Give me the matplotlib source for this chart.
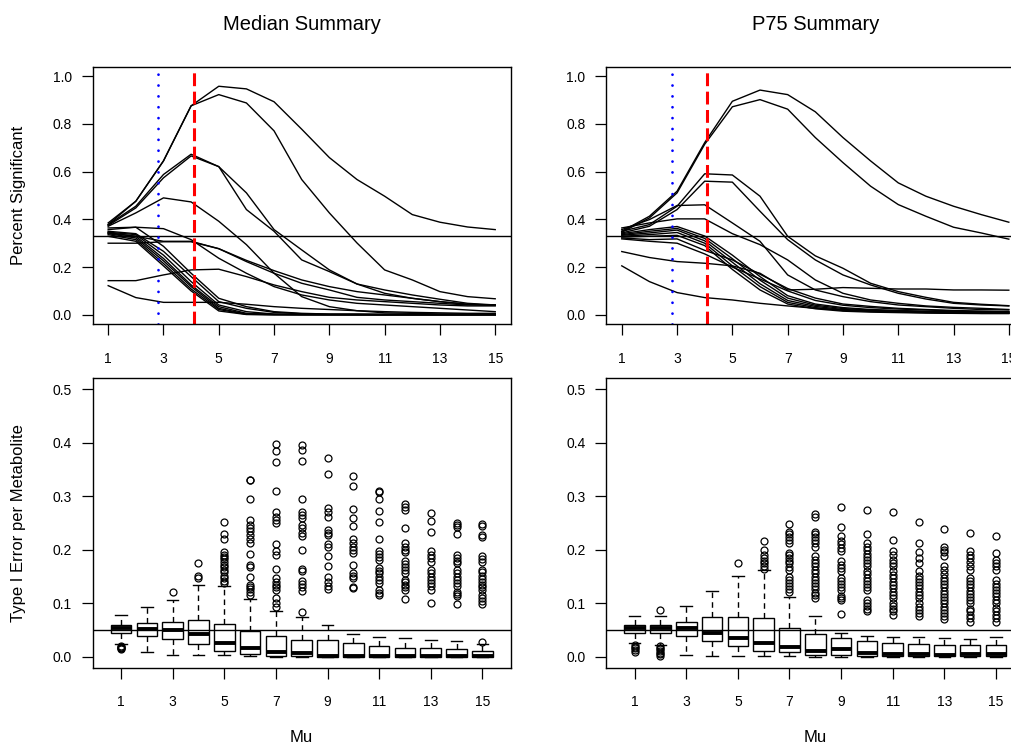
# Recreation of a 2x2 R-style summary figure (line sweeps + Type I error boxplots)
import numpy as np
import matplotlib
matplotlib.use("Agg")
import matplotlib.pyplot as plt

plt.rcParams['font.family'] = ['Liberation Sans', 'DejaVu Sans']

# ============================================
# Data
mu = list(range(1, 16))
vline_blue = 2.8
vline_red = 4.1
hline_top = 0.33
hline_bottom = 0.05

# Percent significant per metabolite, Median summary
median_lines = [
    [0.385, 0.476, 0.645, 0.876, 0.958, 0.947, 0.893, 0.778, 0.659, 0.567, 0.497, 0.420, 0.388, 0.368, 0.357],
    [0.378, 0.476, 0.645, 0.876, 0.923, 0.888, 0.771, 0.567, 0.427, 0.301, 0.188, 0.146, 0.097, 0.076, 0.067],
    [0.378, 0.455, 0.588, 0.673, 0.621, 0.511, 0.357, 0.272, 0.188, 0.129, 0.104, 0.083, 0.065, 0.048, 0.041],
    [0.374, 0.448, 0.574, 0.666, 0.621, 0.441, 0.350, 0.230, 0.181, 0.129, 0.090, 0.069, 0.055, 0.044, 0.041],
    [0.371, 0.427, 0.490, 0.473, 0.392, 0.294, 0.174, 0.076, 0.034, 0.017, 0.008, 0.006, 0.003, 0.003, 0.003],
    [0.357, 0.367, 0.361, 0.315, 0.237, 0.174, 0.118, 0.083, 0.062, 0.048, 0.041, 0.034, 0.027, 0.020, 0.013],
    [0.343, 0.329, 0.308, 0.308, 0.277, 0.223, 0.174, 0.132, 0.104, 0.073, 0.062, 0.055, 0.048, 0.041, 0.041],
    [0.300, 0.300, 0.306, 0.306, 0.277, 0.228, 0.185, 0.146, 0.118, 0.097, 0.083, 0.069, 0.055, 0.044, 0.040],
    [0.143, 0.143, 0.167, 0.188, 0.191, 0.160, 0.125, 0.097, 0.073, 0.062, 0.055, 0.048, 0.041, 0.037, 0.037],
    [0.122, 0.072, 0.052, 0.052, 0.052, 0.044, 0.034, 0.027, 0.022, 0.017, 0.013, 0.010, 0.008, 0.006, 0.006],
    [0.364, 0.367, 0.287, 0.174, 0.069, 0.034, 0.013, 0.006, 0.003, 0.003, 0.002, 0.002, 0.002, 0.002, 0.002],
    [0.350, 0.340, 0.266, 0.160, 0.055, 0.027, 0.010, 0.004, 0.002, 0.002, 0.001, 0.001, 0.001, 0.001, 0.001],
    [0.346, 0.336, 0.250, 0.139, 0.041, 0.013, 0.003, 0.002, 0.001, 0.001, 0.001, 0.001, 0.001, 0.001, 0.001],
    [0.343, 0.329, 0.236, 0.125, 0.034, 0.006, 0.002, 0.001, 0.001, 0.000, 0.000, 0.000, 0.000, 0.000, 0.000],
    [0.340, 0.322, 0.226, 0.118, 0.027, 0.003, 0.001, 0.000, 0.000, 0.000, 0.000, 0.000, 0.000, 0.000, 0.000],
    [0.336, 0.315, 0.215, 0.108, 0.022, 0.002, 0.000, 0.000, 0.000, 0.000, 0.000, 0.000, 0.000, 0.000, 0.000],
    [0.329, 0.308, 0.205, 0.100, 0.016, 0.001, 0.000, 0.000, 0.000, 0.000, 0.000, 0.000, 0.000, 0.000, 0.000],
]

# Percent significant per metabolite, P75 summary
p75_lines = [
    [0.350, 0.413, 0.518, 0.722, 0.895, 0.942, 0.923, 0.851, 0.743, 0.645, 0.553, 0.497, 0.455, 0.420, 0.388],
    [0.346, 0.406, 0.511, 0.715, 0.872, 0.902, 0.862, 0.743, 0.638, 0.539, 0.462, 0.413, 0.367, 0.343, 0.317],
    [0.350, 0.378, 0.455, 0.591, 0.586, 0.497, 0.329, 0.247, 0.195, 0.132, 0.097, 0.073, 0.052, 0.044, 0.038],
    [0.343, 0.371, 0.441, 0.560, 0.556, 0.434, 0.315, 0.230, 0.167, 0.125, 0.090, 0.066, 0.048, 0.041, 0.037],
    [0.357, 0.399, 0.458, 0.461, 0.385, 0.308, 0.167, 0.104, 0.076, 0.055, 0.041, 0.034, 0.027, 0.022, 0.020],
    [0.364, 0.385, 0.402, 0.402, 0.340, 0.294, 0.230, 0.146, 0.090, 0.062, 0.048, 0.037, 0.031, 0.027, 0.022],
    [0.265, 0.240, 0.223, 0.216, 0.205, 0.174, 0.104, 0.107, 0.114, 0.111, 0.108, 0.108, 0.104, 0.104, 0.103],
    [0.205, 0.139, 0.093, 0.072, 0.062, 0.048, 0.037, 0.027, 0.020, 0.017, 0.013, 0.010, 0.008, 0.006, 0.006],
    [0.340, 0.357, 0.370, 0.330, 0.250, 0.160, 0.080, 0.045, 0.030, 0.022, 0.018, 0.015, 0.013, 0.012, 0.012],
    [0.336, 0.350, 0.362, 0.320, 0.235, 0.145, 0.070, 0.040, 0.026, 0.020, 0.016, 0.013, 0.011, 0.010, 0.010],
    [0.333, 0.343, 0.355, 0.310, 0.220, 0.130, 0.060, 0.035, 0.022, 0.017, 0.013, 0.011, 0.009, 0.008, 0.008],
    [0.329, 0.336, 0.345, 0.300, 0.205, 0.118, 0.052, 0.030, 0.018, 0.014, 0.011, 0.009, 0.007, 0.006, 0.006],
    [0.326, 0.329, 0.333, 0.290, 0.190, 0.104, 0.045, 0.025, 0.015, 0.011, 0.009, 0.007, 0.006, 0.005, 0.005],
    [0.322, 0.315, 0.318, 0.270, 0.230, 0.170, 0.110, 0.070, 0.045, 0.035, 0.027, 0.022, 0.018, 0.015, 0.013],
    [0.318, 0.308, 0.300, 0.255, 0.200, 0.150, 0.100, 0.060, 0.040, 0.030, 0.024, 0.020, 0.016, 0.014, 0.012],
]

# Type I error per metabolite, Median summary (box statistics)
med_q1 = [0.045, 0.040, 0.034, 0.024, 0.012, 0.006, 0.002, 0.001, 0.000, 0.000, 0.000, 0.000, 0.000, 0.000, 0.000]
med_med = [0.054, 0.052, 0.051, 0.042, 0.027, 0.017, 0.009, 0.0075, 0.0025, 0.002, 0.001, 0.001, 0.001, 0.001, 0.001]
med_q3 = [0.059, 0.063, 0.065, 0.069, 0.061, 0.048, 0.0385, 0.032, 0.031, 0.026, 0.021, 0.017, 0.016, 0.015, 0.012]
med_lo = [0.025, 0.009, 0.004, 0.003, 0.003, 0.001, 0.0, 0.0, 0.0, 0.0, 0.0, 0.0, 0.0, 0.0, 0.0]
med_hi = [0.078, 0.093, 0.107, 0.135, 0.133, 0.109, 0.085, 0.075, 0.060, 0.043, 0.037, 0.035, 0.031, 0.029, 0.024]
med_out = [
    [0.014, 0.016, 0.017, 0.019, 0.020],
    [],
    [0.122],
    [0.147, 0.152, 0.175],
    [0.138, 0.142, 0.147, 0.152, 0.158, 0.163, 0.168, 0.172, 0.178, 0.182, 0.186, 0.190, 0.195, 0.221, 0.229, 0.251],
    [0.116, 0.121, 0.126, 0.131, 0.135, 0.149, 0.167, 0.172, 0.192, 0.212, 0.220, 0.228, 0.235, 0.241, 0.247, 0.256, 0.295, 0.330, 0.331],
    [0.094, 0.100, 0.110, 0.125, 0.130, 0.135, 0.140, 0.147, 0.164, 0.190, 0.197, 0.210, 0.250, 0.256, 0.262, 0.270, 0.309, 0.363, 0.385, 0.398],
    [0.084, 0.124, 0.130, 0.136, 0.142, 0.160, 0.164, 0.200, 0.225, 0.232, 0.240, 0.247, 0.260, 0.265, 0.270, 0.294, 0.366, 0.386, 0.395],
    [0.127, 0.133, 0.140, 0.150, 0.170, 0.188, 0.206, 0.210, 0.228, 0.232, 0.237, 0.262, 0.270, 0.278, 0.341, 0.371],
    [0.128, 0.131, 0.147, 0.152, 0.157, 0.171, 0.194, 0.200, 0.206, 0.213, 0.220, 0.245, 0.260, 0.276, 0.319, 0.337],
    [0.116, 0.120, 0.125, 0.138, 0.144, 0.150, 0.156, 0.161, 0.166, 0.181, 0.186, 0.192, 0.197, 0.221, 0.251, 0.273, 0.295, 0.307, 0.310],
    [0.109, 0.125, 0.130, 0.135, 0.140, 0.144, 0.156, 0.162, 0.168, 0.174, 0.180, 0.195, 0.200, 0.206, 0.212, 0.241, 0.275, 0.280, 0.286],
    [0.100, 0.125, 0.132, 0.138, 0.144, 0.150, 0.156, 0.163, 0.178, 0.184, 0.190, 0.197, 0.234, 0.253, 0.268],
    [0.099, 0.113, 0.118, 0.122, 0.132, 0.138, 0.144, 0.150, 0.156, 0.163, 0.175, 0.180, 0.185, 0.190, 0.229, 0.243, 0.247, 0.250],
    [0.028, 0.099, 0.104, 0.110, 0.116, 0.125, 0.130, 0.135, 0.140, 0.146, 0.152, 0.158, 0.163, 0.178, 0.183, 0.188, 0.224, 0.227, 0.245, 0.248],
]

# Type I error per metabolite, P75 summary (box statistics)
p75_q1 = [0.045, 0.045, 0.040, 0.030, 0.020, 0.011, 0.009, 0.004, 0.004, 0.002, 0.002, 0.001, 0.001, 0.001, 0.001]
p75_med = [0.054, 0.054, 0.054, 0.045, 0.035, 0.027, 0.019, 0.012, 0.014, 0.0075, 0.006, 0.006, 0.004, 0.006, 0.006]
p75_q3 = [0.059, 0.060, 0.066, 0.074, 0.074, 0.073, 0.055, 0.043, 0.035, 0.029, 0.026, 0.025, 0.022, 0.022, 0.022]
p75_lo = [0.027, 0.023, 0.004, 0.001, 0.002, 0.002, 0.001, 0.0, 0.0, 0.0, 0.0, 0.0, 0.0, 0.0, 0.0]
p75_hi = [0.077, 0.076, 0.096, 0.123, 0.152, 0.163, 0.112, 0.076, 0.045, 0.040, 0.037, 0.037, 0.035, 0.033, 0.037]
p75_out = [
    [0.010, 0.013, 0.016, 0.019, 0.022],
    [0.002, 0.005, 0.008, 0.011, 0.014, 0.017, 0.020, 0.087],
    [],
    [],
    [0.175],
    [0.165, 0.170, 0.175, 0.180, 0.185, 0.190, 0.200, 0.217],
    [0.122, 0.127, 0.133, 0.138, 0.143, 0.150, 0.163, 0.168, 0.175, 0.180, 0.185, 0.190, 0.194, 0.212, 0.218, 0.224, 0.229, 0.234, 0.248],
    [0.110, 0.115, 0.120, 0.126, 0.132, 0.138, 0.144, 0.150, 0.157, 0.163, 0.169, 0.175, 0.181, 0.188, 0.206, 0.212, 0.218, 0.224, 0.230, 0.234, 0.262, 0.266],
    [0.081, 0.106, 0.110, 0.113, 0.125, 0.130, 0.136, 0.141, 0.147, 0.160, 0.166, 0.172, 0.180, 0.197, 0.203, 0.210, 0.216, 0.225, 0.243, 0.280],
    [0.085, 0.090, 0.095, 0.100, 0.107, 0.125, 0.130, 0.136, 0.142, 0.148, 0.155, 0.160, 0.169, 0.175, 0.181, 0.187, 0.193, 0.200, 0.206, 0.212, 0.230, 0.275],
    [0.079, 0.085, 0.090, 0.095, 0.100, 0.110, 0.116, 0.122, 0.128, 0.134, 0.140, 0.147, 0.153, 0.160, 0.169, 0.175, 0.181, 0.190, 0.197, 0.219, 0.271],
    [0.076, 0.082, 0.088, 0.094, 0.100, 0.110, 0.116, 0.122, 0.128, 0.134, 0.140, 0.146, 0.152, 0.160, 0.175, 0.185, 0.195, 0.212, 0.251],
    [0.070, 0.076, 0.082, 0.088, 0.094, 0.100, 0.106, 0.112, 0.118, 0.124, 0.130, 0.136, 0.142, 0.148, 0.154, 0.163, 0.170, 0.188, 0.195, 0.200, 0.206, 0.238],
    [0.066, 0.072, 0.078, 0.085, 0.090, 0.100, 0.106, 0.112, 0.118, 0.124, 0.130, 0.136, 0.142, 0.148, 0.163, 0.170, 0.178, 0.185, 0.190, 0.197, 0.231],
    [0.066, 0.072, 0.078, 0.085, 0.092, 0.100, 0.107, 0.113, 0.119, 0.125, 0.131, 0.137, 0.143, 0.163, 0.170, 0.175, 0.181, 0.194, 0.225],
]
# ============================================

W, H = 1012, 750
fig = plt.figure(figsize=(W / 100, H / 100), dpi=100)


def rect(left, top, right, bottom):
    return [left / W, 1 - bottom / H, (right - left) / W, (bottom - top) / H]


def r_axes(ax):
    for s in ax.spines.values():
        s.set_linewidth(1.0)
    ax.tick_params(direction='out', length=8, width=0.9, labelsize=10, colors='black')
    ax.tick_params(axis='x', pad=12)
    ax.tick_params(axis='y', pad=7)


def line_panel(ax, lines):
    for y in lines:
        ax.plot(mu, y, color='black', linewidth=1.0)
    ax.axhline(hline_top, color='black', linewidth=1.0)
    ax.axvline(vline_blue, color='blue', linewidth=2.0, dashes=(0.01, 3.9), dash_capstyle='round')
    ax.axvline(vline_red, color='red', linewidth=2.2, dashes=(4.2, 1.8))
    ax.set_xlim(0.44, 15.56)
    ax.set_ylim(-0.04, 1.04)
    ax.set_xticks(mu[::2])
    ax.set_yticks(np.arange(0, 1.01, 0.2))
    ax.set_yticklabels(['%.1f' % v for v in np.arange(0, 1.01, 0.2)])
    r_axes(ax)


def box_panel(ax, q1, med, q3, lo, hi, out):
    stats = []
    for i in range(len(mu)):
        stats.append(dict(q1=q1[i], med=med[i], q3=q3[i], whislo=lo[i], whishi=hi[i], fliers=out[i]))
    ax.bxp(stats, positions=mu, widths=0.8, capwidths=0.45, showfliers=True, patch_artist=True,
           boxprops=dict(facecolor='white', edgecolor='black', linewidth=1.0),
           medianprops=dict(color='black', linewidth=2.8, solid_capstyle='butt'),
           whiskerprops=dict(color='black', linewidth=1.0, dashes=(4, 3)),
           capprops=dict(color='black', linewidth=1.0),
           flierprops=dict(marker='o', markerfacecolor='none', markeredgecolor='black',
                           markersize=5, markeredgewidth=0.9))
    ax.axhline(hline_bottom, color='black', linewidth=1.0)
    ax.set_xlim(-0.1, 16.1)
    ax.set_ylim(-0.02, 0.52)
    ax.set_xticks(mu[::2])
    ax.set_xticklabels([str(m) for m in mu[::2]])
    ax.set_yticks(np.arange(0, 0.51, 0.1))
    ax.set_yticklabels(['%.1f' % v for v in np.arange(0, 0.51, 0.1)])
    r_axes(ax)


ax1 = fig.add_axes(rect(92.7, 66.7, 510.7, 324.3))
line_panel(ax1, median_lines)
ax2 = fig.add_axes(rect(606.3, 66.7, 1024.3, 324.3))
line_panel(ax2, p75_lines)
ax3 = fig.add_axes(rect(92.7, 378.3, 510.7, 667.7))
box_panel(ax3, med_q1, med_med, med_q3, med_lo, med_hi, med_out)
ax4 = fig.add_axes(rect(606.3, 378.3, 1024.3, 667.7))
box_panel(ax4, p75_q1, p75_med, p75_q3, p75_lo, p75_hi, p75_out)

fig.text(301.7 / W, 1 - 24 / H, 'Median Summary', ha='center', va='center', fontsize=14.5)
fig.text(815.3 / W, 1 - 24 / H, 'P75 Summary', ha='center', va='center', fontsize=14.5)
fig.text(19 / W, 1 - 195.5 / H, 'Percent Significant', ha='center', va='center', rotation=90, fontsize=12)
fig.text(19 / W, 1 - 523 / H, 'Type I Error per Metabolite', ha='center', va='center', rotation=90, fontsize=12)
fig.text(301.7 / W, 1 - 738 / H, 'Mu', ha='center', va='center', fontsize=12)
fig.text(815.3 / W, 1 - 738 / H, 'Mu', ha='center', va='center', fontsize=12)

fig.savefig('out.png', dpi=100)
